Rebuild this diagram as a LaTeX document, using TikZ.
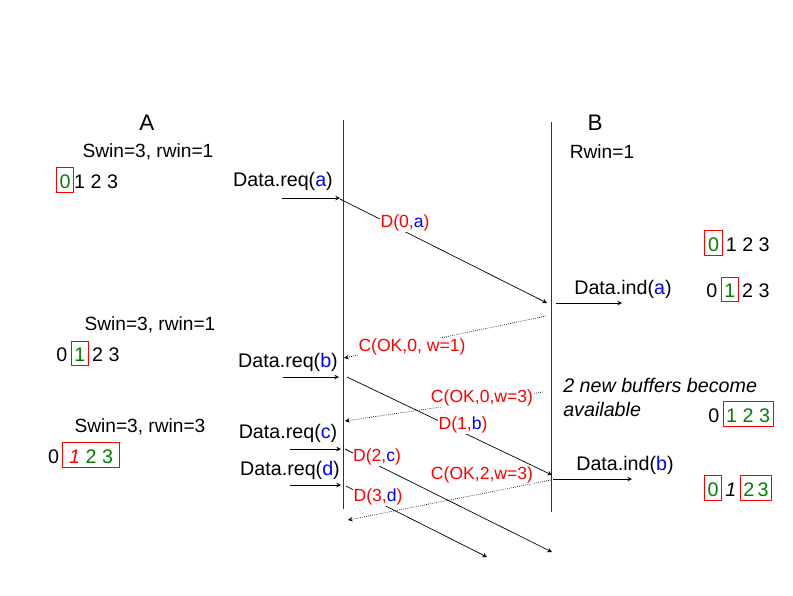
\documentclass[tikz,border=0pt]{standalone}
\usepackage{fontspec}
\setmainfont{Liberation Sans}
\usepackage{xcolor}
\usepackage{tikz}
\usetikzlibrary{positioning}

\definecolor{dgreen}{RGB}{0,128,0}
\newcommand{\redbox}[1]{{\setlength{\fboxsep}{2pt}\setlength{\fboxrule}{0.6pt}\fcolorbox{red}{white}{\rule{0pt}{12.5pt}#1}}}
\newcommand{\grn}[1]{\textcolor{dgreen}{#1}}
\newcommand{\blu}[1]{\textcolor{blue}{#1}}

\tikzset{
  big/.style={font=\fontsize{16}{18}\selectfont, inner sep=0pt},
  win/.style={font=\fontsize{13.6}{15}\selectfont, inner sep=0pt},
  lbl/.style={font=\fontsize{14}{16}\selectfont, inner sep=0pt},
  msg/.style={text=red, font=\fontsize{12.5}{14}\selectfont, fill=white, inner sep=0.3pt},
  arr/.style={->, >=stealth, line width=0.5pt},
  ack/.style={arr, densely dotted},
  life/.style={line width=0.7pt, black!80},
}

\begin{document}
\begin{tikzpicture}[x=0.025cm, y=-0.025cm]

\useasboundingbox (0,0) rectangle (793,595);

% end points
\coordinate (la1) at (343,120);
\coordinate (la2) at (343,509);
\coordinate (lb1) at (551,122);
\coordinate (lb2) at (551,512);

\coordinate (qa1) at (282,198);
\coordinate (qa2) at (340,198);
\coordinate (d0s) at (340,199);
\coordinate (d0e) at (547,303);
\coordinate (ia1) at (556,303);
\coordinate (ia2) at (622,303);
\coordinate (c1s) at (546,316);
\coordinate (c1e) at (344,358);
\coordinate (qb1) at (283,377);
\coordinate (qb2) at (339,377);
\coordinate (d1s) at (347,377);
\coordinate (d1e) at (552,475);
\coordinate (c2s) at (543,392);
\coordinate (c2e) at (345,421);
\coordinate (qc1) at (290,449);
\coordinate (qc2) at (341,449);
\coordinate (d2s) at (345,449);
\coordinate (d2e) at (552,552);
\coordinate (qd1) at (290,485);
\coordinate (qd2) at (341,485);
\coordinate (d3s) at (346,486);
\coordinate (d3e) at (487,557);
\coordinate (ib1) at (553,479);
\coordinate (ib2) at (632,479);
\coordinate (c3s) at (551,480);
\coordinate (c3e) at (348,520);

% time lines
\draw[life] (la1) -- (la2);
\draw[life] (lb1) -- (lb2);

% arrows
\draw[arr] (qa1) -- (qa2);
\draw[arr] (d0s) -- (d0e);
\draw[arr] (ia1) -- (ia2);
\draw[ack] (c1s) -- (c1e);
\draw[arr] (qb1) -- (qb2);
\draw[arr] (d1s) -- (d1e);
\draw[ack] (c2s) -- (c2e);
\draw[arr] (qc1) -- (qc2);
\draw[arr] (d2s) -- (d2e);
\draw[arr] (qd1) -- (qd2);
\draw[arr] (d3s) -- (d3e);
\draw[arr] (ib1) -- (ib2);
\draw[ack] (c3s) -- (c3e);

% nodes
{
\node[big] (A) at (147,123) {A};
\node[big] (B) at (595,123) {B};

\node[win] (swa) at (148,152) {Swin=3, rwin=1};
\node[win] (swb) at (150,325) {Swin=3, rwin=1};
\node[win] (swc) at (140,427) {Swin=3, rwin=3};
\node[win] (rwb) at (602,152) {Rwin=1};

\node[lbl] (wa0) at (87,180) {\redbox{\grn{0}}1 2 3};
\node[lbl] (wa1) at (88,353) {0\,\redbox{\grn{1}}\,2 3};
\node[lbl] (wa3) at (84,455) {0\,\redbox{\,\textcolor{red}{\itshape 1} \grn{2 3}\,}};

\node[lbl] (wb0) at (737,243) {\redbox{\grn{0}}\,1 2 3};
\node[lbl] (wb1) at (738,289) {0\,\redbox{\grn{1}}\,2 3};
\node[lbl] (wb2) at (741,414) {0\,\redbox{\grn{1 2 3}}};
\node[lbl] (wb3) at (738,488) {\redbox{\grn{0}}\,\textit{1}\,\redbox{\grn{2\,3}}};

\node[lbl] (reqa) at (283,181) {Data.req(\blu{a})};
\node[lbl] (reqb) at (288,362) {Data.req(\blu{b})};
\node[lbl] (reqc) at (288,433) {Data.req(\blu{c})};
\node[lbl] (reqd) at (290,470) {Data.req(\blu{d})};
\node[lbl] (inda) at (623,289) {Data.ind(\blu{a})};
\node[lbl] (indb) at (625,465) {Data.ind(\blu{b})};

\node[lbl, anchor=west, align=left, font=\fontsize{14}{17}\selectfont\itshape] (buf) at (563,397)
{2 new buffers become\\available};

\node[msg] (m0) at (405,223) {D(0,\blu{a})};
\node[msg] (m1) at (463,425) {D(1,\blu{b})};
\node[msg] (m2) at (377,457) {D(2,\blu{c})};
\node[msg] (m3) at (378,497) {D(3,\blu{d})};
\node[msg] (k1) at (412,347) {C(OK,0, w=1)};
\node[msg] (k2) at (482,398) {C(OK,0,w=3)};
\node[msg] (k3) at (482,475) {C(OK,2,w=3)};
}

\end{tikzpicture}
\end{document}
